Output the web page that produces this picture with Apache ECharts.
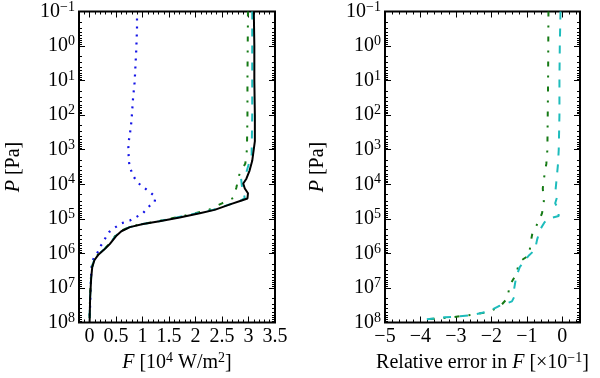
<!DOCTYPE html>
<html>
<head>
<meta charset="utf-8">
<script src="https://cdn.jsdelivr.net/npm/echarts@6/dist/echarts.min.js"></script>
<style>
  html, body { margin: 0; background: #fff; }
  #chart { width: 600px; height: 378px; }
</style>
</head>
<body>
<div id="chart"></div>
<script>
// tick labels
const fluxTicks = [0, 0.5, 1, 1.5, 2, 2.5, 3, 3.5];
const errTicks = [-5, -4, -3, -2, -1, 0];
const pressureTicks = [0.1, 1, 10, 100, 1e3, 1e4, 1e5, 1e6, 1e7, 1e8];

// left panel: net flux F [1e4 W/m2] vs pressure P [Pa]
const blackP = [0.1, 1, 10, 100, 560, 2100, 4000, 6900, 9500, 13200, 18200, 25700, 29500, 37000, 55000, 69000, 91000, 117000, 141000, 174000, 229000, 316000, 540000, 790000, 1.07e6, 1.58e6, 2.5e6, 5.1e6, 1.9e7, 1e8];
const blackF = [3.10, 3.11, 3.11, 3.12, 3.12, 3.07, 3.02, 2.96, 2.90, 2.93, 2.99, 2.98, 2.87, 2.68, 2.36, 2.08, 1.70, 1.32, 1.01, 0.76, 0.60, 0.50, 0.38, 0.27, 0.17, 0.09, 0.05, 0.03, 0.01, 0.0];

const blueP = [0.16, 0.32, 1.38, 11.2, 33, 151, 363, 692, 2090, 3240, 5500, 8500, 12000, 16600, 22900, 31600, 46800, 67600, 89000, 112000, 135000, 182000, 240000, 400000, 575000, 890000, 1.35e6, 2.04e6, 4e6, 1e7, 3.16e7, 8e7];
const blueF = [0.895, 0.895, 0.88, 0.85, 0.82, 0.79, 0.76, 0.73, 0.74, 0.76, 0.82, 0.89, 1.01, 1.13, 1.24, 1.23, 1.10, 1.01, 0.88, 0.76, 0.60, 0.47, 0.37, 0.28, 0.22, 0.16, 0.08, 0.04, 0.03, 0.02, 0.01, 0.0];

const greenP = [0.1, 10, 100, 1000, 2500, 5600, 12600, 25000, 35500, 55000, 79000, 117000, 141000, 174000, 229000, 316000, 540000, 790000, 1.07e6, 1.58e6, 2.5e6, 5.1e6, 1.9e7, 8e7];
const greenF = [2.99, 2.98, 2.98, 2.97, 2.94, 2.82, 2.77, 2.71, 2.50, 2.25, 1.82, 1.30, 0.99, 0.74, 0.58, 0.48, 0.37, 0.26, 0.16, 0.08, 0.045, 0.025, 0.008, 0.0];

const cyanP = [0.1, 10, 100, 1000, 1350, 4470, 6900, 12600, 25000, 31600, 40000, 55000, 79000, 117000, 141000, 174000, 229000, 316000, 540000, 790000, 1.07e6, 1.58e6, 2.5e6, 5.1e6, 1.9e7, 8e7];
const cyanF = [3.07, 3.07, 3.07, 3.06, 3.06, 2.96, 2.86, 2.88, 2.93, 2.82, 2.60, 2.33, 1.84, 1.31, 1.00, 0.75, 0.59, 0.49, 0.37, 0.265, 0.165, 0.085, 0.048, 0.028, 0.009, 0.0];

// right panel: relative error [x1e-1] vs pressure
const greenErrP = [0.1, 10, 100, 1000, 2570, 6170, 13200, 31600, 68000, 117000, 250000, 540000, 1.12e6, 1.58e6, 2.5e6, 4e6, 8.3e6, 2e7, 3.4e7, 4.5e7, 5.25e7, 6e7, 6.9e7, 7.4e7, 8.1e7];
const greenErr = [-0.39, -0.40, -0.41, -0.42, -0.45, -0.51, -0.55, -0.52, -0.57, -0.66, -0.84, -0.90, -0.93, -1.15, -1.25, -1.30, -1.48, -1.55, -1.75, -1.99, -2.22, -2.55, -3.05, -3.35, -3.82];

const cyanErrP = [0.1, 1, 10, 100, 316, 1000, 2570, 7100, 14800, 22400, 35500, 50000, 83000, 100000, 126000, 200000, 400000, 790000, 1.17e6, 2.5e6, 4.8e6, 1.26e7, 1.78e7, 2.45e7, 3.4e7, 4.8e7, 6.2e7, 7.1e7, 8.1e7];
const cyanErr = [-0.05, -0.07, -0.08, -0.08, -0.09, -0.10, -0.12, -0.16, -0.19, -0.14, -0.20, -0.12, -0.10, -0.42, -0.50, -0.62, -0.71, -0.77, -0.95, -1.20, -1.30, -1.37, -1.35, -1.42, -1.80, -2.08, -2.60, -3.30, -3.82];

const FONT = 'Liberation Serif';
const rich = {
  i: { fontStyle: 'italic', fontSize: 20, fontFamily: FONT, color: '#000' },
  s: { fontSize: 14, fontFamily: FONT, color: '#000', padding: [0, 0, 9, 0] }
};

function pairs(xs, ys) {
  return xs.map((x, i) => [x, ys[i]]);
}

function minus(v) {
  return v < 0 ? '\u2212' + (-v) : String(v);
}

function steps(from, to, step) {
  const out = [];
  for (let k = Math.round(from / step); k * step <= to + 1e-9; k++) {
    out.push(+(k * step).toFixed(3));
  }
  return out;
}

const logMinor = [];
for (let e = -1; e < 8; e++) {
  for (let m = 2; m < 10; m++) {
    logMinor.push(+(m * Math.pow(10, e)).toPrecision(3));
  }
}

function tickAxis(gridIndex, position, extra, values, len, withLabel) {
  return Object.assign({
    gridIndex,
    position,
    axisLine: { show: false, onZero: false },
    splitLine: { show: false },
    axisTick: {
      show: true,
      inside: true,
      length: len,
      customValues: values,
      lineStyle: { color: '#000', width: 1 }
    },
    axisLabel: withLabel ? Object.assign({
      show: true,
      customValues: values,
      color: '#000',
      fontFamily: FONT,
      fontSize: 20,
      rich
    }, withLabel) : { show: false }
  }, extra);
}

function xAxes(gridIndex, min, max, major, minor, name, fmt) {
  const base = { type: 'value', min, max };
  return [
    tickAxis(gridIndex, 'bottom', Object.assign({
      name,
      nameLocation: 'middle',
      nameGap: 29,
      nameTextStyle: { color: '#000', fontFamily: FONT, fontSize: 20, rich }
    }, base), major, 6, { margin: 4, formatter: fmt }),
    tickAxis(gridIndex, 'bottom', base, minor, 3, null),
    tickAxis(gridIndex, 'top', base, major, 6, null),
    tickAxis(gridIndex, 'top', base, minor, 3, null)
  ];
}

function yAxes(gridIndex, nameGap) {
  const base = { type: 'log', logBase: 10, min: 0.1, max: 1e8, inverse: true };
  const fmt = v => '10{s|' + minus(Math.round(Math.log10(v))) + '}';
  return [
    tickAxis(gridIndex, 'left', Object.assign({
      name: '{i|P} [Pa]',
      nameLocation: 'middle',
      nameGap,
      nameTextStyle: { color: '#000', fontFamily: FONT, fontSize: 20, rich }
    }, base), pressureTicks, 6, { margin: 4, formatter: fmt }),
    tickAxis(gridIndex, 'left', base, logMinor, 3, null),
    tickAxis(gridIndex, 'right', base, pressureTicks, 6, null),
    tickAxis(gridIndex, 'right', base, logMinor, 3, null)
  ];
}

function line(data, color, type, width, xi, yi, z) {
  return {
    type: 'line',
    data,
    xAxisIndex: xi,
    yAxisIndex: yi,
    symbol: 'none',
    z,
    animation: false,
    lineStyle: { color, type, width }
  };
}

const chart = echarts.init(document.getElementById('chart'), null, { renderer: 'canvas' });

chart.setOption({
  backgroundColor: '#fff',
  animation: false,
  grid: [
    { left: 79, top: 8, width: 196, height: 317, show: true, borderColor: '#000', borderWidth: 2 },
    { left: 385, top: 8, width: 195, height: 317, show: true, borderColor: '#000', borderWidth: 2 }
  ],
  xAxis: [
    ...xAxes(0, -0.2, 3.5, fluxTicks, steps(-0.1, 3.5, 0.1),
      '{i|F} [10{s|4} W/m{s|2}]', v => String(v)),
    ...xAxes(1, -5, 0.5, errTicks, steps(-5, 0.5, 0.2),
      'Relative error in {i|F} [\u00d710{s|\u22121}]', minus)
  ],
  yAxis: [
    ...yAxes(0, 55),
    ...yAxes(1, 57)
  ],
  series: [
    line(pairs(blueF, blueP), '#1414e6', [2, 6], 2.2, 0, 0, 2),
    line(pairs(greenF, greenP), '#157a15', [5, 9, 2, 9], 2, 0, 0, 3),
    line(pairs(cyanF, cyanP), '#1ebcbc', [8, 9], 2, 0, 0, 4),
    line(pairs(blackF, blackP), '#000', 'solid', 2, 0, 0, 5),
    line(pairs(greenErr, greenErrP), '#157a15', [5, 9, 2, 9], 2, 4, 4, 4),
    line(pairs(cyanErr, cyanErrP), '#1ebcbc', [8, 9], 2, 4, 4, 5)
  ]
});
</script>
</body>
</html>
